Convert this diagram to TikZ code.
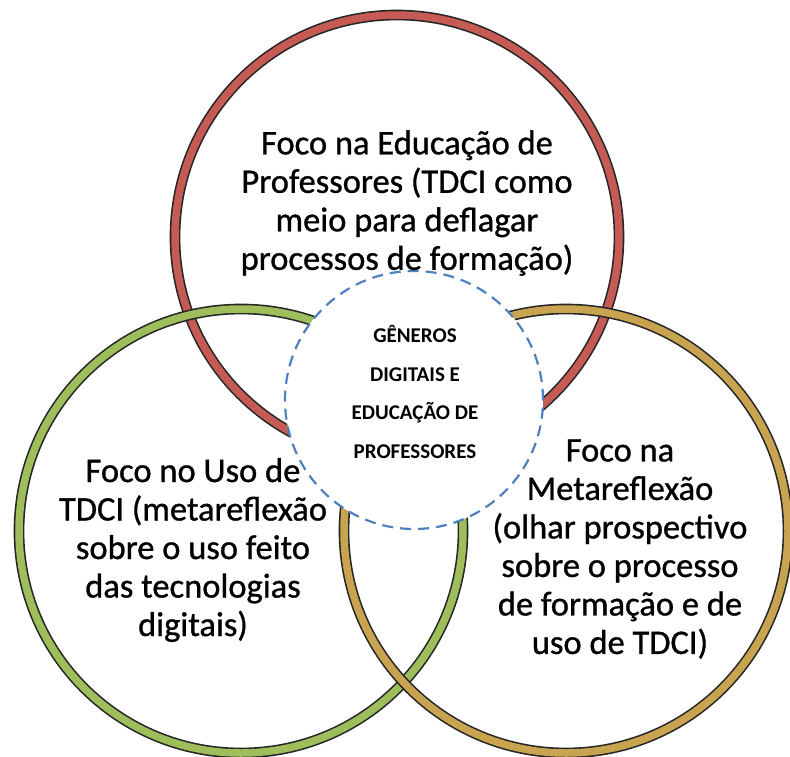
\documentclass[tikz,border=0pt]{standalone}
\usepackage{fontspec}
\setmainfont{Carlito}
\newfontfamily\heavyfont[FakeBold=0.9]{Carlito}
\usepackage{xcolor}
\definecolor{ringred}{HTML}{C65A55}
\definecolor{ringgreen}{HTML}{9DBE5A}
\definecolor{ringgold}{HTML}{C9A450}
\definecolor{dashblue}{HTML}{4F81BD}
\tikzset{ring/.style={shape=circle,minimum size=444pt,inner sep=0pt,
        draw=black!85,line width=1.6pt,double=#1,double distance=7.5pt},
    	focus/.style={align=center,font=\heavyfont\fontsize{34.5}{38.5}\selectfont},
    	core/.style={shape=circle,minimum size=258pt,inner sep=0pt,fill=white,
        draw=dashblue,line width=2.2pt,dash pattern=on 11pt off 7pt}}

\begin{document}
\begin{tikzpicture}[x=1pt,y=-1pt]
			\useasboundingbox[fill=white] (0,0) rectangle (790,756);
			\node[ring=ringred] (E) at (397,237) {};
			\node[ring=ringgreen] (U) at (241,531) {};
			\node[ring=ringgold] (M) at (566,531) {};
			\node[core] (C) at (414,400) {};
		
			\node[focus] (Et) at (407,203) {Foco na Educação de\\Professores (TDCI como\\meio para deflagar\\processos de formação)};
			\node[focus] (Ut) at (193,550) {Foco no Uso de\\TDCI (metareflexão\\sobre o uso feito\\das tecnologias\\digitais)};
			\node[focus] (Mt) at (620,549) {Foco na\\Metareflexão\\(olhar prospectivo\\sobre o processo\\de formação e de\\uso de TDCI)};
			\node[align=center,font=\fontsize{21}{38.5}\selectfont\bfseries] (Ct) at (415,392) {GÊNEROS\\DIGITAIS E\\EDUCAÇÃO DE\\PROFESSORES};
		\end{tikzpicture}
\end{document}
